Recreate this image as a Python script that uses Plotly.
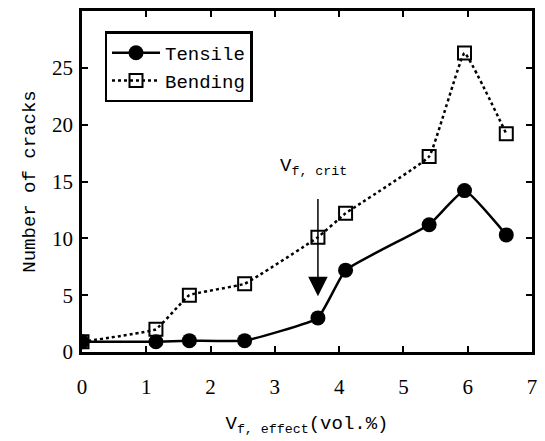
import plotly.graph_objects as go

tensile_x = [0, 1.15, 1.67, 2.53, 3.67, 4.1, 5.4, 5.95, 6.6]
tensile_y = [0.9, 0.9, 1.0, 1.0, 3.0, 7.2, 11.2, 14.2, 10.3]
bending_x = [0, 1.15, 1.67, 2.53, 3.67, 4.1, 5.4, 5.95, 6.6]
bending_y = [0.9, 2.0, 5.0, 6.0, 10.1, 12.2, 17.2, 26.3, 19.2]

serif = "Liberation Serif"
mono = "Liberation Mono"

fig = go.Figure()
fig.add_trace(go.Scatter(
    x=tensile_x, y=tensile_y, name="Tensile", mode="lines+markers",
    line=dict(color="black", width=2.5, shape="spline", smoothing=0.35),
    marker=dict(symbol="circle", size=15, color="black"),
))
fig.add_trace(go.Scatter(
    x=bending_x, y=bending_y, name="Bending", mode="lines+markers",
    line=dict(color="black", width=2.5, dash="dot", shape="spline", smoothing=0.25),
    marker=dict(symbol="square-open", size=13, color="black", line=dict(width=2)),
))

fig.add_annotation(x=3.67, y=4.9, ax=3.67, ay=13.6, xref="x", yref="y",
                   axref="x", ayref="y", showarrow=True, arrowhead=2,
                   arrowsize=2.6, arrowwidth=1.5, arrowcolor="black", text="")
fig.add_annotation(x=3.6, y=16.3, xref="x", yref="y", showarrow=False,
                   text="V<sub>f, crit</sub>", font=dict(family=mono, size=19, color="black"))

axis_common = dict(showline=True, linecolor="black", linewidth=2.5, mirror="ticks",
                   ticks="inside", ticklen=6, tickwidth=2, tickcolor="black",
                   showgrid=False, zeroline=False,
                   tickfont=dict(family=serif, size=21, color="black"))
fig.update_xaxes(range=[0, 7], dtick=1, ticklabelstandoff=14,
                 title=dict(text="V<sub>f, effect</sub>(vol.%)",
                            font=dict(family=mono, size=19, color="black"), standoff=18),
                 **axis_common)
fig.update_yaxes(range=[0, 30], dtick=5, ticklabelstandoff=2,
                 title=dict(text="Number of cracks",
                            font=dict(family=mono, size=19, color="black"), standoff=12),
                 **axis_common)

fig.update_layout(
    width=545, height=441,
    margin=dict(l=82, r=8, t=11, b=89),
    plot_bgcolor="white", paper_bgcolor="white",
    legend=dict(x=0.05, y=0.94, xanchor="left", yanchor="top",
                bordercolor="black", borderwidth=2.5, bgcolor="white",
                font=dict(family=mono, size=19, color="black"),
                tracegroupgap=0, itemwidth=48),
    showlegend=True,
)

fig.write_html("out.html")
